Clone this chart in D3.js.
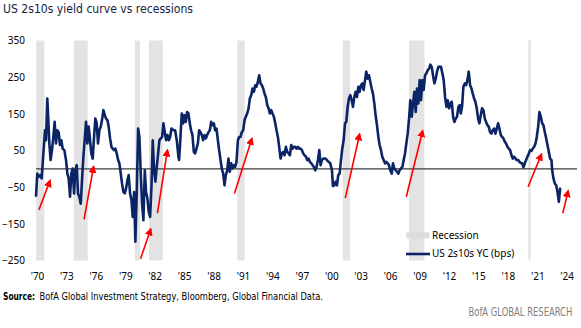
<!DOCTYPE html>
<html>
<head>
<meta charset="utf-8">
<script src="https://cdn.jsdelivr.net/npm/d3@7"></script>
<style>
	body { margin: 0; background: #fff; }
	svg { display: block; }
	text { font-family: "Noto Sans", "Open Sans", sans-serif; }
	.narrow { font-family: "Liberation Sans Narrow", "DejaVu Sans Condensed", "Arial Narrow", sans-serif; }
</style>
</head>
<body>
<svg id="chart" width="581" height="328"></svg>
<script>
/* US 2s10s spread (bps), dates as decimal years */
var yc_dates = [
	1969.90,1970.03,1970.14,1970.31,1970.48,1970.65,1970.82,1970.92,1971.05,1971.16,
	1971.26,1971.39,1971.53,1971.67,1971.80,1971.94,1972.07,1972.21,1972.35,1972.48,
	1972.62,1972.79,1972.96,1973.10,1973.23,1973.37,1973.50,1973.64,1973.78,1973.91,
	1974.05,1974.18,1974.32,1974.46,1974.59,1974.73,1974.86,1975.00,1975.14,1975.27,
	1975.41,1975.54,1975.68,1975.82,1975.95,1976.09,1976.22,1976.36,1976.50,1976.63,
	1976.77,1976.91,1977.04,1977.18,1977.31,1977.45,1977.59,1977.72,1977.86,1977.99,
	1978.13,1978.27,1978.40,1978.54,1978.67,1978.81,1978.95,1979.08,1979.22,1979.35,
	1979.49,1979.63,1979.76,1979.90,1980.03,1980.17,1980.31,1980.44,1980.58,1980.71,
	1980.85,1980.99,1981.12,1981.26,1981.39,1981.53,1981.67,1981.80,1981.94,1982.07,
	1982.21,1982.35,1982.48,1982.62,1982.76,1982.89,1983.03,1983.16,1983.30,1983.44,
	1983.57,1983.71,1983.84,1983.98,1984.08,1984.25,1984.42,1984.49,1984.59,1984.76,
	1984.90,1985.03,1985.17,1985.31,1985.44,1985.58,1985.71,1985.85,1985.99,1986.12,
	1986.26,1986.40,1986.53,1986.67,1986.80,1986.94,1987.08,1987.21,1987.35,1987.48,
	1987.62,1987.76,1987.89,1988.03,1988.16,1988.30,1988.44,1988.57,1988.71,1988.84,
	1988.98,1989.12,1989.25,1989.39,1989.52,1989.66,1989.80,1989.93,1990.07,1990.20,
	1990.34,1990.48,1990.61,1990.75,1990.88,1991.02,1991.16,1991.29,1991.43,1991.57,
	1991.70,1991.84,1991.97,1992.11,1992.25,1992.38,1992.52,1992.65,1992.79,1992.93,
	1993.06,1993.20,1993.33,1993.47,1993.61,1993.74,1993.88,1994.01,1994.15,1994.29,
	1994.42,1994.56,1994.69,1994.83,1994.97,1995.10,1995.24,1995.37,1995.51,1995.65,
	1995.78,1995.92,1996.05,1996.19,1996.33,1996.46,1996.60,1996.74,1996.87,1997.01,
	1997.14,1997.28,1997.42,1997.55,1997.69,1997.82,1997.96,1998.10,1998.23,1998.37,
	1998.50,1998.64,1998.78,1998.91,1999.05,1999.18,1999.32,1999.39,1999.56,1999.73,
	1999.90,2000.07,2000.17,2000.31,2000.44,2000.58,2000.71,2000.85,2000.99,2001.12,
	2001.26,2001.40,2001.53,2001.67,2001.80,2001.94,2002.08,2002.21,2002.35,2002.48,
	2002.62,2002.76,2002.89,2003.03,2003.16,2003.30,2003.44,2003.57,2003.71,2003.84,
	2003.98,2004.12,2004.25,2004.39,2004.52,2004.66,2004.80,2004.93,2005.07,2005.20,
	2005.34,2005.48,2005.61,2005.75,2005.88,2006.02,2006.16,2006.29,2006.43,2006.57,
	2006.70,2006.84,2006.97,2007.11,2007.25,2007.38,2007.52,2007.65,2007.79,2007.93,
	2008.06,2008.20,2008.33,2008.47,2008.61,2008.74,2008.88,2009.01,2009.15,2009.29,
	2009.42,2009.56,2009.69,2009.83,2009.97,2010.10,2010.24,2010.37,2010.51,2010.65,
	2010.78,2010.92,2011.05,2011.19,2011.33,2011.46,2011.60,2011.74,2011.87,2012.01,
	2012.14,2012.28,2012.42,2012.55,2012.69,2012.82,2012.96,2013.10,2013.20,2013.33,
	2013.47,2013.61,2013.74,2013.88,2014.01,2014.15,2014.29,2014.42,2014.56,2014.69,
	2014.83,2014.97,2015.10,2015.24,2015.37,2015.51,2015.65,2015.78,2015.92,2016.05,
	2016.19,2016.33,2016.46,2016.60,2016.74,2016.87,2017.01,2017.14,2017.28,2017.42,
	2017.55,2017.69,2017.82,2017.96,2018.10,2018.23,2018.37,2018.50,2018.64,2018.78,
	2018.91,2019.05,2019.18,2019.32,2019.46,2019.59,2019.73,2019.86,2020.00,2020.14,
	2020.27,2020.41,2020.54,2020.68,2020.82,2020.95,2021.09,2021.22,2021.36,2021.50,
	2021.63,2021.77,2021.91,2022.04,2022.18,2022.31,2022.45,2022.52,2022.65,2022.79,
	2022.93,2023.06,2023.20,2023.33,2023.40
];

var yc_bps = [
	-76,-13,-22,-17,-26,42,105,78,192,133,
	69,24,51,87,128,69,105,100,65,78,
	55,51,24,-13,-26,-76,-13,1,-67,-4,
	10,-67,-76,-95,-31,33,78,128,69,115,
	78,42,28,87,137,124,69,105,115,133,
	160,146,137,133,115,83,60,55,51,55,
	42,24,15,-13,-40,-63,-67,-54,-31,-17,
	-67,-85,-131,-63,-199,-67,110,87,-13,-95,
	-140,-4,-63,-81,-117,-131,-49,78,-4,-35,
	5,42,78,83,87,124,100,78,92,78,
	87,110,107,105,105,78,33,24,69,151,
	124,146,128,155,151,124,105,92,46,42,
	55,69,105,100,92,78,92,83,92,100,
	105,128,119,124,105,110,78,51,24,1,
	-13,-45,-17,-4,28,-8,15,1,10,5,
	19,78,87,87,100,105,133,142,151,165,
	192,201,219,210,228,224,237,255,233,228,
	219,205,196,174,165,151,160,151,142,124,
	105,87,60,28,42,46,37,60,46,42,
	37,65,55,60,60,55,60,55,55,51,
	42,37,33,24,28,19,15,10,5,-4,
	5,24,51,10,24,28,28,28,24,19,
	15,-4,-47,-45,-35,-45,-17,-13,24,55,
	78,124,128,169,192,201,187,169,196,210,
	196,224,210,228,233,215,242,265,246,255,
	237,219,205,178,146,119,87,65,51,33,
	24,15,19,15,10,-4,-13,15,1,-4,
	-8,-13,-4,1,5,24,42,69,96,137,
	187,142,178,210,155,219,178,242,187,242,
	215,255,260,269,273,284,278,255,233,246,
	265,278,278,278,260,242,196,169,187,165,
	178,183,142,128,137,142,169,174,151,169,
	224,233,228,242,265,228,219,205,192,183,
	165,137,124,146,165,160,137,128,119,115,
	100,96,105,110,96,110,124,110,92,87,
	83,74,69,60,55,51,37,28,33,28,
	24,24,19,16,15,4,15,24,33,42,
	51,49,55,60,69,87,115,155,142,124,
	119,100,83,65,46,28,24,-4,-26,-40,
	-45,-63,-90,-54,-52
];

/* NBER recessions, decimal years */
var recession_start = [1969.92, 1973.75, 1979.98, 1981.42, 1990.42, 2001.17, 2007.92, 2020.08];
var recession_end   = [1970.75, 1975.17, 1980.50, 1982.83, 1991.17, 2001.92, 2009.50, 2020.33];

/* steepening arrows: [year, bps] start and end */
var arrow_from = [[1970.20, -112], [1974.80, -138], [1980.56, -245], [1982.28, -121], [1990.13, -67], [2001.43, -80], [2007.65, -76], [2020.07, -49], [2023.60, -121]];
var arrow_to   = [[1971.33, -32], [1975.77, 6], [1981.60, -164], [1983.30, 51], [1991.91, 83], [2002.89, 95], [2009.32, 104], [2021.43, 40], [2024.15, -60]];

var y_ticks = [350, 250, 150, 50, -50, -150, -250];
var x_ticks = [1970, 1973, 1976, 1979, 1982, 1985, 1988, 1991, 1994, 1997, 2000, 2003, 2006, 2009, 2012, 2015, 2018, 2021, 2024];

var navy = "#0b2466";

var svg = d3.select("#chart");

var x = d3.scaleLinear().domain([1969.9, 2025.05]).range([36, 577]);
var y = d3.scaleLinear().domain([-250, 350]).range([260.5, 40.5]);

// recession shading
svg.append("g")
.selectAll("rect")
.data(recession_start)
.enter().append("rect")
.attr("x", function(d){ return x(d); })
.attr("width", function(d, i){ return x(recession_end[i]) - x(d); })
.attr("y", y(350))
.attr("height", y(-250) - y(350))
.attr("fill", "#e3e3e3");

// zero line
svg.append("line")
.attr("x1", x.range()[0])
.attr("x2", x.range()[1])
.attr("y1", y(0))
.attr("y2", y(0))
.attr("stroke", "#3c3c3c")
.attr("stroke-width", 1.2);

// axes, labels only
var y_axis = svg.append("g")
.attr("transform", "translate(36,0)")
.call(d3.axisLeft(y).tickValues(y_ticks).tickSize(0).tickPadding(11));
y_axis.select(".domain").remove();

var x_axis = svg.append("g")
.attr("transform", "translate(0," + y(-250) + ")")
.call(d3.axisBottom(x).tickValues(x_ticks).tickSize(0).tickPadding(12)
	.tickFormat(function(d){ return "'" + String(d).slice(2); }));
x_axis.select(".domain").remove();

svg.selectAll(".tick text")
.attr("font-family", "'Noto Sans', 'Open Sans', sans-serif")
.attr("font-size", 10)
.attr("fill", "#000");

// the spread
var line = d3.line()
.x(function(d, i){ return x(yc_dates[i]); })
.y(function(d){ return y(d); });

svg.append("path")
.datum(yc_bps)
.attr("d", line)
.attr("fill", "none")
.attr("stroke", navy)
.attr("stroke-width", 2.6)
.attr("stroke-linejoin", "round");

// red arrows
svg.append("defs").append("marker")
.attr("id", "red-head")
.attr("viewBox", "0 0 10 10")
.attr("refX", 8)
.attr("refY", 5)
.attr("markerUnits", "userSpaceOnUse")
.attr("markerWidth", 8)
.attr("markerHeight", 8)
.attr("orient", "auto")
.append("path")
.attr("d", "M0,0L10,5L0,10z")
.attr("fill", "#ff0000");

svg.append("g")
.selectAll("line")
.data(arrow_from)
.enter().append("line")
.attr("x1", function(d){ return x(d[0]); })
.attr("y1", function(d){ return y(d[1]); })
.attr("x2", function(d, i){ return x(arrow_to[i][0]); })
.attr("y2", function(d, i){ return y(arrow_to[i][1]); })
.attr("stroke", "#ff0000")
.attr("stroke-width", 1.6)
.attr("marker-end", "url(#red-head)");

// legend
var legend = svg.append("g");
legend.append("rect")
.attr("x", 406.5).attr("y", 232.3)
.attr("width", 23).attr("height", 6.2)
.attr("fill", "#dcdcdc");
legend.append("text")
.attr("x", 432).attr("y", 239.4)
.attr("font-size", 10)
.text("Recession");
legend.append("line")
.attr("x1", 406).attr("x2", 430)
.attr("y1", 254).attr("y2", 254)
.attr("stroke", navy)
.attr("stroke-width", 2.6);
legend.append("text")
.attr("x", 432).attr("y", 257.4)
.attr("font-size", 10)
.text("US 2s10s YC (bps)");

// title and footer
svg.append("text")
.attr("class", "narrow")
.attr("x", 3).attr("y", 13)
.attr("font-size", 13)
.attr("fill", "#16213d")
.attr("textLength", 190)
.attr("lengthAdjust", "spacingAndGlyphs")
.text("US 2s10s yield curve vs recessions");

svg.append("text")
.attr("class", "narrow")
.attr("x", 3).attr("y", 300)
.attr("font-size", 10)
.attr("font-weight", "bold")
.attr("textLength", 32)
.attr("lengthAdjust", "spacingAndGlyphs")
.text("Source:");

svg.append("text")
.attr("class", "narrow")
.attr("x", 39.5).attr("y", 300)
.attr("font-size", 10)
.attr("textLength", 283.5)
.attr("lengthAdjust", "spacingAndGlyphs")
.text("BofA Global Investment Strategy, Bloomberg, Global Financial Data.");

// house mark, squeezed horizontally to its slot
var brand = svg.append("g")
.attr("transform", "translate(572.3,316)");
var brand_text = brand.append("text")
.attr("class", "narrow")
.attr("text-anchor", "end")
.attr("font-size", 11.5)
.attr("fill", "#808080")
.text("BofA GLOBAL RESEARCH");
var brand_w = brand_text.node().getComputedTextLength();
if(brand_w > 104){
	brand.attr("transform", "translate(572.3,316) scale(" + (104 / brand_w) + ",1)");
}
</script>
</body>
</html>
